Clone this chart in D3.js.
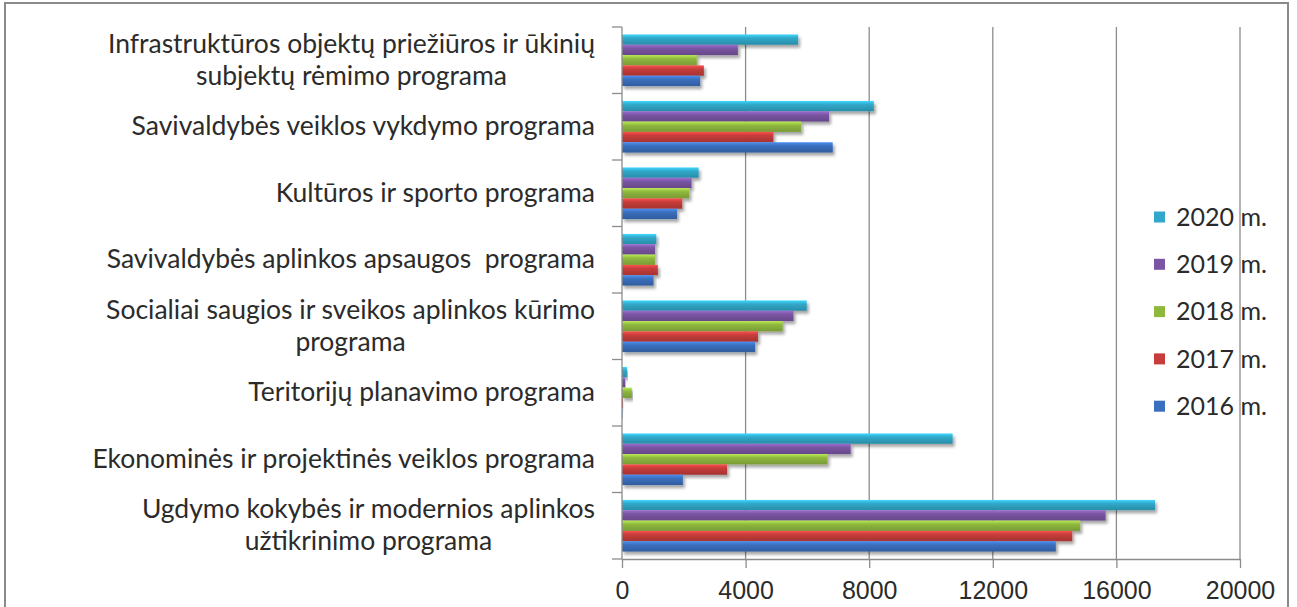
<!DOCTYPE html>
<html>
<head>
<meta charset="utf-8">
<script src="https://cdn.jsdelivr.net/npm/d3@7"></script>
<style>
  html, body { margin: 0; padding: 0; background: #fff; }
  svg { display: block; font-family: Lato, 'Open Sans', sans-serif; }
  .cat-label, .tick-label, .legend-label { fill: #2b2b2b; white-space: pre; }
</style>
</head>
<body>
<svg id="chart" width="1297" height="607"></svg>
<script>
// categories, top to bottom (wrapped lines as in the picture)
const categories = [
  ['Infrastruktūros objektų priežiūros ir ūkinių', 'subjektų rėmimo programa'],
  ['Savivaldybės veiklos vykdymo programa'],
  ['Kultūros ir sporto programa'],
  ['Savivaldybės aplinkos apsaugos  programa'],
  ['Socialiai saugios ir sveikos aplinkos kūrimo', 'programa'],
  ['Teritorijų planavimo programa'],
  ['Ekonominės ir projektinės veiklos programa'],
  ['Ugdymo kokybės ir modernios aplinkos', 'užtikrinimo programa']
];

const years = ['2020 m.', '2019 m.', '2018 m.', '2017 m.', '2016 m.'];
const colors = ['#31a8c9', '#7a55a3', '#8fb83f', '#c63d3b', '#3a6fbd'];

const values2020 = [5700, 8150, 2480, 1110, 5980, 160, 10700, 17250];
const values2019 = [3750, 6700, 2250, 1070, 5550, 100, 7400, 15650];
const values2018 = [2420, 5800, 2180, 1070, 5200, 320, 6650, 14830];
const values2017 = [2650, 4900, 1950, 1160, 4400, 30, 3400, 14570];
const values2016 = [2530, 6820, 1780, 1020, 4310, 10, 1970, 14040];
const series = [values2020, values2019, values2018, values2017, values2016];

const xTicks = [0, 4000, 8000, 12000, 16000, 20000];

const svg = d3.select('#chart');
const defs = svg.append('defs');

const shadow = defs.append('filter').attr('id', 'shadow')
  .attr('x', '-5%').attr('y', '-50%').attr('width', '115%').attr('height', '250%');
shadow.append('feDropShadow')
  .attr('dx', 2).attr('dy', 3).attr('stdDeviation', 1.6)
  .attr('flood-color', '#000').attr('flood-opacity', 0.35);

colors.forEach((c, i) => {
  const g = defs.append('linearGradient').attr('id', `grad${i}`)
    .attr('x1', 0).attr('y1', 0).attr('x2', 0).attr('y2', 1);
  g.append('stop').attr('offset', '0%').attr('stop-color', d3.color(c).brighter(0.7));
  g.append('stop').attr('offset', '35%').attr('stop-color', c);
  g.append('stop').attr('offset', '100%').attr('stop-color', d3.color(c).darker(0.5));
});

// outer frame
svg.append('rect')
  .attr('x', 5).attr('y', 3).attr('width', 1283).attr('height', 620)
  .attr('fill', 'none').attr('stroke', '#8a8a8a').attr('stroke-width', 2);

const x = d3.scaleLinear().domain([0, 20000]).range([622, 1240]);
const y = d3.scaleBand().domain(d3.range(categories.length)).range([27, 559]);
const yInner = d3.scaleBand().domain(d3.range(years.length))
  .range([0, y.bandwidth()]).paddingOuter(0.72);

// vertical gridlines
svg.append('g').selectAll('line')
  .data(xTicks.slice(1))
  .join('line')
  .attr('x1', d => x(d)).attr('x2', d => x(d))
  .attr('y1', 27).attr('y2', 559)
  .attr('stroke', '#8c8c8c').attr('stroke-width', 1.3);

// bars
const groups = svg.append('g').selectAll('g')
  .data(categories.map((c, i) => i))
  .join('g')
  .attr('transform', i => `translate(0,${y(i)})`);

groups.selectAll('rect')
  .data(i => series.map((s, k) => ({ k, v: s[i] })))
  .join('rect')
  .attr('x', x(0))
  .attr('y', d => yInner(d.k))
  .attr('width', d => Math.max(0.5, x(d.v) - x(0)))
  .attr('height', yInner.bandwidth())
  .attr('fill', d => `url(#grad${d.k})`)
  .attr('filter', 'url(#shadow)');

// bottom axis
const xAxis = svg.append('g').attr('transform', 'translate(0,559)')
  .call(d3.axisBottom(x).tickValues(xTicks).tickSize(9).tickSizeOuter(0).tickFormat(d3.format('d')));
xAxis.select('.domain').attr('stroke', '#8c8c8c').attr('stroke-width', 1.3);
xAxis.selectAll('.tick line').attr('stroke', '#8c8c8c').attr('stroke-width', 1.3);
xAxis.selectAll('.tick text')
  .attr('class', 'tick-label')
  .attr('y', 22).attr('dy', '0.71em')
  .style('font-size', '25px')
  .attr('font-family', null);

// left axis with ticks at band boundaries
const leftAxis = svg.append('g');
leftAxis.append('line')
  .attr('x1', x(0)).attr('x2', x(0)).attr('y1', 27).attr('y2', 559)
  .attr('stroke', '#8c8c8c').attr('stroke-width', 1.3);
leftAxis.selectAll('line.tk')
  .data(d3.range(categories.length + 1))
  .join('line').attr('class', 'tk')
  .attr('x1', x(0) - 10).attr('x2', x(0))
  .attr('y1', i => i < categories.length ? y(i) : y(i - 1) + y.bandwidth())
  .attr('y2', i => i < categories.length ? y(i) : y(i - 1) + y.bandwidth())
  .attr('stroke', '#8c8c8c').attr('stroke-width', 1.3);

// category labels
const lineH = 32;
categories.forEach((lines, i) => {
  const cy = y(i) + y.bandwidth() / 2 - 1;
  const t = svg.append('text').attr('class', 'cat-label')
    .style('font-size', '26.5px').attr('text-anchor', 'middle');
  const spans = lines.map((ln, j) => t.append('tspan')
    .attr('y', cy + (j - (lines.length - 1) / 2) * lineH)
    .attr('dy', '0.35em').text(ln));
  const w = d3.max(spans, s => s.node().getComputedTextLength());
  spans.forEach(s => s.attr('x', 595 - w / 2));
});

// legend (no background, sits over the gridline)
const legend = svg.append('g').selectAll('g')
  .data(years)
  .join('g')
  .attr('transform', (d, i) => `translate(1154,${217 + i * 47.3})`);
legend.append('rect')
  .attr('x', 0).attr('y', -5.5).attr('width', 11).attr('height', 11)
  .attr('fill', (d, i) => colors[i]);
legend.append('text').attr('class', 'legend-label')
  .attr('x', 22).attr('dy', '0.35em')
  .style('font-size', '25px')
  .text(d => d);
</script>
</body>
</html>
